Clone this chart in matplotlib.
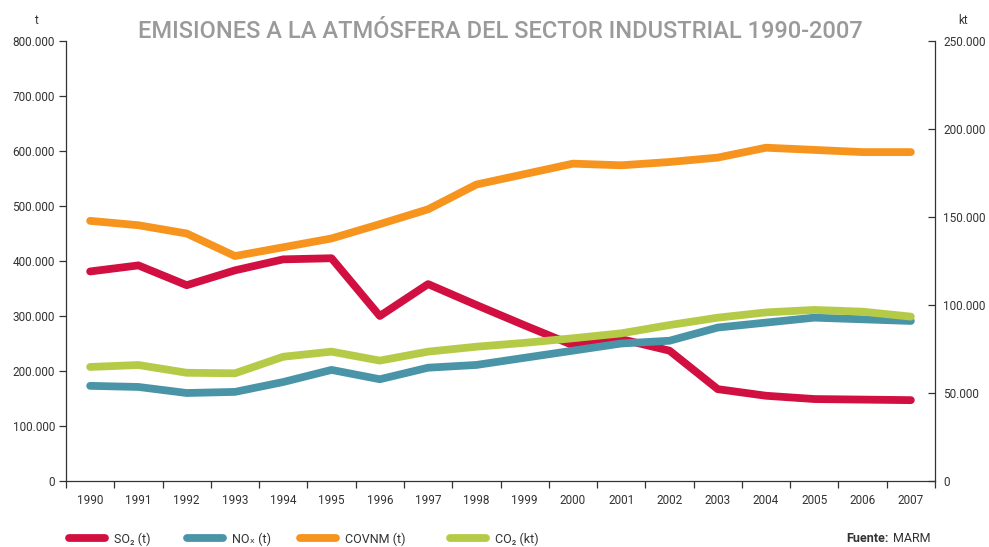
import numpy as np
import matplotlib
matplotlib.use("Agg")
import matplotlib.pyplot as plt
from matplotlib.ticker import FuncFormatter, FixedLocator

plt.rcParams["font.family"] = ["Roboto", "DejaVu Sans"]

# ── Data ─────────────────────────────────────────────────────────────────────
years = list(range(1990, 2008))
so2 = [381000, 392000, 356000, 383000, 403000, 405000, 300000, 358000, 320000,
       283000, 247000, 258000, 237000, 167000, 155000, 149000, 148000, 147000]
nox = [173000, 171000, 160000, 162000, 180000, 202000, 185000, 206000, 211000,
       224000, 237000, 250000, 255000, 279000, 288000, 297000, 294000, 291000]
covnm = [473000, 465000, 450000, 409000, 425000, 441000, 467000, 494000, 539000,
         558000, 577000, 574000, 580000, 588000, 606000, 602000, 598000, 598000]
co2_kt = [64800, 65900, 61500, 61200, 70600, 73500, 68400, 73500, 76300,
          78500, 81100, 83900, 88600, 92800, 95800, 97200, 96200, 93400]

labels = ["SO\u2082 (t)", "NO\u2093 (t)", "COVNM (t)", "CO\u2082 (kt)"]
colors = ["#D20F41", "#4A94A8", "#F7941E", "#B5CB48"]

def dots(v, pos):
    return f"{int(v):,}".replace(",", ".")

fig = plt.figure(figsize=(9.89, 5.47), dpi=100)
ax = fig.add_axes([66/989, 1-481/547, (935-66)/989, 440/547])
ax2 = ax.twinx()

x = np.arange(len(years))
lw = 5.6
style = dict(lw=lw, solid_capstyle="round", solid_joinstyle="round")
l1, = ax.plot(x, so2, color=colors[0], **style)
l2, = ax.plot(x, nox, color=colors[1], **style)
l3, = ax.plot(x, covnm, color=colors[2], **style)
l4, = ax2.plot(x, co2_kt, color=colors[3], **style)

ax.set_xlim(-0.5, len(years) - 0.5)
ax.set_ylim(0, 800000)
ax2.set_ylim(0, 250000)
ax.set_yticks(np.arange(0, 800001, 100000))
ax2.set_yticks(np.arange(0, 250001, 50000))
ax.yaxis.set_major_formatter(FuncFormatter(dots))
ax2.yaxis.set_major_formatter(FuncFormatter(dots))

ax.set_xticks(x)
ax.set_xticklabels([str(y) for y in years])
ax.xaxis.set_minor_locator(FixedLocator(np.arange(-0.5, len(years), 1.0)))
ax.tick_params(axis="x", which="major", length=0, pad=9, labelsize=8.5, labelcolor="#333333")
ax.tick_params(axis="x", which="minor", length=5, width=0.9, color="#333333", direction="out")
ax.tick_params(axis="y", length=5, width=0.9, color="#333333", labelsize=8.5,
               labelcolor="#333333", pad=3)
ax2.tick_params(axis="y", length=5, width=0.9, color="#333333", labelsize=8.5,
                labelcolor="#333333", direction="in", pad=6)

for a in (ax, ax2):
    a.spines["top"].set_visible(False)
    for s in ("left", "right", "bottom"):
        a.spines[s].set_color("#333333")
        a.spines[s].set_linewidth(0.9)
ax.spines["right"].set_visible(False)
ax2.spines["left"].set_visible(False)
ax2.spines["bottom"].set_visible(False)

# Title and unit labels
fig.text(500/989, 1-32/547, "EMISIONES A LA ATMÓSFERA DEL SECTOR INDUSTRIAL 1990-2007",
         ha="center", va="center", fontsize=17, color="#9A9A9A", fontweight="medium")
fig.text(36/989, 1-21/547, "t", ha="center", va="center", fontsize=8.5, color="#333333")
fig.text(963/989, 1-21/547, "kt", ha="center", va="center", fontsize=8.5, color="#333333")

# Legend along the bottom, one entry at a time
leg_x = [64, 182, 295, 445]
for h, lab, lx in zip([l1, l2, l3, l4], labels, leg_x):
    lg = fig.legend([h], [lab], loc="center left", bbox_to_anchor=(lx/989, 1-539/547),
                    frameon=False, handlelength=2.9, handletextpad=0.7,
                    fontsize=9, labelcolor="#333333", borderaxespad=0)

fig.text(930/989, 1-539/547, "MARM", ha="right", va="center", fontsize=9,
         color="#333333")
fig.text(889/989, 1-539/547, "Fuente:", ha="right", va="center", fontsize=9,
         color="#333333", fontweight="bold")

fig.savefig("out.png", dpi=100)
